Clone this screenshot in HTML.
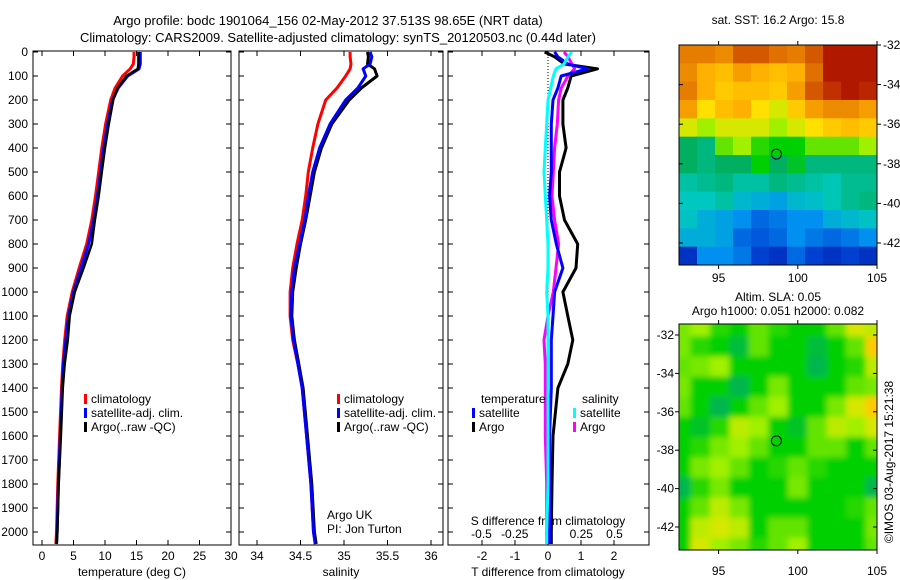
<!DOCTYPE html>
<html><head><meta charset="utf-8"><style>
body{margin:0;background:#fff;}
svg{display:block;font-family:"Liberation Sans",sans-serif;font-size:12px;}
</style></head><body>
<svg id="c" width="900" height="580" viewBox="0 0 900 580">
<defs>
<filter id="blur" x="0" y="0" width="1" height="1"><feGaussianBlur stdDeviation="3"/></filter>
<clipPath id="clip1"><rect x="679" y="45" width="198" height="220"/></clipPath>
<clipPath id="clip2"><rect x="679" y="324" width="198" height="226"/></clipPath>
</defs>
<text x="328" y="25" text-anchor="middle" font-size="13">Argo profile: bodc 1901064_156 02-May-2012 37.513S 98.65E (NRT data)</text>
<text x="338" y="42" text-anchor="middle" font-size="13">Climatology: CARS2009. Satellite-adjusted climatology: synTS_20120503.nc (0.44d later)</text>
<g id="g"></g>
</svg>
<script>
// ---- data ----
const depths=[0,20,50,70,100,150,200,300,400,500,600,700,800,900,1000,1100,1200,1300,1400,1600,1800,2000,2050];
const tempClim=[14.6,14.6,14.5,14.0,12.8,11.6,10.9,10.1,9.5,9.0,8.5,7.9,7.1,5.9,4.8,4.0,3.6,3.3,3.1,2.8,2.5,2.3,2.2];
const tempSat=[15.6,15.6,15.6,15.4,13.6,12.1,11.2,10.4,9.8,9.3,8.8,8.2,7.4,6.2,5.0,4.2,3.8,3.4,3.2,2.9,2.6,2.4,2.3];
const tempArgo=[15.3,15.3,15.3,15.2,13.4,12.0,11.3,10.6,10.0,9.5,9.0,8.4,7.9,6.6,5.2,4.4,4.1,3.6,3.3,3.0,2.65,2.45,2.35];
const salClim=[35.07,35.07,35.08,35.07,35.02,34.92,34.79,34.70,34.64,34.59,34.56,34.52,34.46,34.41,34.38,34.38,34.41,34.47,34.52,34.57,34.62,34.65,34.67];
const salSat=[35.3,35.32,35.3,35.22,35.25,35.16,35.02,34.84,34.72,34.64,34.59,34.55,34.49,34.43,34.40,34.39,34.42,34.47,34.52,34.57,34.62,34.65,34.67];
const salArgo=[35.27,35.28,35.27,35.35,35.38,35.2,35.06,34.86,34.74,34.66,34.61,34.56,34.5,34.45,34.41,34.4,34.43,34.48,34.53,34.58,34.63,34.66,34.68];
const dTsat=[0.2,0.3,0.6,1.2,0.4,0.3,0.15,0.1,0.1,0.1,0.05,0.1,0.25,0.45,0.2,0.15,0.1,0.1,0.1,0.05,0.05,0.05,0.05];
const dTargo=[-0.1,0.2,0.5,1.5,0.7,0.6,0.45,0.45,0.55,0.35,0.35,0.5,0.9,0.85,0.45,0.6,0.75,0.6,0.3,0.15,0.12,0.1,0.1];
const dSsat=[0.18,0.15,0.12,0.06,0.04,0.02,0.0,-0.01,-0.02,-0.03,-0.02,-0.01,0.0,0.0,-0.01,0.0,0.0,0.0,0.0,0.0,0.0,-0.01,-0.01];
const dSargo=[0.12,0.15,0.18,0.2,0.15,0.1,0.08,0.07,0.05,0.04,0.03,0.05,0.08,0.06,0.04,0.0,-0.03,-0.02,-0.02,-0.02,-0.01,-0.01,-0.01];
const depthTicks=[0,100,200,300,400,500,600,700,800,900,1000,1100,1200,1300,1400,1500,1600,1700,1800,1900,2000];
const tempTicks=[0,5,10,15,20,25,30];
const salTicks=[34,34.5,35,35.5,36];
const dTTicks=[-2,-1,0,1,2];
const dSTicks=[-0.5,-0.25,0,0.25,0.5];
const dSLabels=["-0.5","-0.25","0","0.25","0.5"];
const latTicks=[-32,-34,-36,-38,-40,-42];
const lonTicks=[95,100,105];
const sstGrid=[
[.8,.8,.78,.85,.85,.82,.8,.85,.95,.95,.95],
[.78,.72,.7,.75,.72,.7,.72,.82,.95,.95,.95],
[.8,.72,.68,.7,.7,.68,.75,.85,.9,.95,.92],
[.75,.65,.7,.72,.65,.62,.68,.75,.78,.78,.75],
[.62,.58,.62,.62,.62,.58,.62,.65,.68,.7,.68],
[.45,.42,.55,.58,.52,.5,.5,.55,.55,.55,.58],
[.45,.42,.45,.45,.5,.45,.48,.42,.42,.42,.42],
[.38,.4,.42,.38,.38,.42,.4,.38,.36,.4,.4],
[.35,.35,.38,.32,.3,.28,.32,.33,.36,.4,.42],
[.34,.3,.28,.25,.2,.22,.25,.25,.3,.32,.34],
[.3,.3,.28,.2,.18,.2,.25,.22,.2,.22,.25],
[.12,.25,.25,.22,.15,.12,.2,.15,.12,.15,.12]];
const slaGrid=[
[.56,.58,.52,.5,.55,.52,.5,.5,.55,.62,.6],
[.56,.52,.5,.47,.55,.5,.5,.47,.5,.55,.68],
[.55,.56,.58,.5,.5,.5,.5,.46,.5,.52,.6],
[.56,.5,.5,.46,.5,.56,.5,.5,.5,.55,.56],
[.55,.5,.46,.5,.55,.58,.5,.5,.56,.62,.68],
[.5,.48,.52,.6,.58,.5,.48,.55,.6,.58,.62],
[.5,.52,.56,.58,.55,.5,.5,.55,.55,.5,.55],
[.5,.56,.58,.55,.5,.52,.55,.52,.5,.5,.5],
[.46,.52,.56,.5,.5,.5,.56,.5,.5,.5,.46],
[.5,.55,.6,.56,.5,.5,.5,.5,.5,.52,.55],
[.5,.6,.62,.6,.5,.55,.55,.5,.5,.5,.56],
[.5,.62,.58,.56,.52,.55,.58,.5,.5,.5,.55]];
const floatLon=98.65, floatLat=-37.513;

// ---- drawing ----
const NS="http://www.w3.org/2000/svg";
const G=document.getElementById('g');
function mk(tag,at,txt,parent){const e=document.createElementNS(NS,tag);for(const k in at)e.setAttribute(k,at[k]);if(txt!==undefined&&txt!==null)e.textContent=txt;(parent||G).appendChild(e);return e;}
const Y=d=>52+d*0.24;
const TOP=51,BOT=545;
const xT=t=>42+t*6.3, xS=s=>257+(s-34)*87, xdT=t=>548+t*33, xdS=s=>548+s*133;
function frame(x0,x1,name){const r=mk('rect',{x:x0,y:TOP,width:x1-x0,height:BOT-TOP,fill:'none',stroke:'#000','stroke-width':1});


depthTicks.forEach(d=>{mk('line',{x1:x0,x2:x0+5,y1:Y(d),y2:Y(d),stroke:'#000'});mk('line',{x1:x1,x2:x1-5,y1:Y(d),y2:Y(d),stroke:'#000'});});}
function line(xs,xf,color,name,w){const p=depths.map((d,i)=>xf(xs[i]).toFixed(1)+','+Y(d).toFixed(1)).join(' ');
const e=mk('polyline',{points:p,fill:'none',stroke:color,'stroke-width':w||3,'stroke-linejoin':'round'});

}
function xticks(vals,f,labels,y,name){vals.forEach((v,i)=>{const x=f(v);mk('line',{x1:x,x2:x,y1:BOT,y2:BOT-5,stroke:'#000'});mk('line',{x1:x,x2:x,y1:TOP,y2:TOP+5,stroke:'#000'});
const t=mk('text',{x:x,y:y,'text-anchor':'middle'},labels?labels[i]:String(v));

});}
frame(33,231,'temperature-panel');frame(239,443,'salinity-panel');frame(448,649,'difference-panel');
depthTicks.forEach(d=>{const t=mk('text',{x:28,y:Y(d)+4,'text-anchor':'end'},String(d));

});
xticks(tempTicks,xT,null,560,'temperature');
xticks(salTicks,xS,null,560,'salinity');
xticks(dTTicks,xdT,null,560,'t-diff');
dSTicks.forEach((v,i)=>{const t=mk('text',{x:xdS(v),y:538,'text-anchor':'middle'},dSLabels[i]);

});
[['temperature (deg C)',132,'temperature-axis-title'],['salinity',341,'salinity-axis-title'],['T difference from climatology',548,'t-diff-axis-title']].forEach(a=>{const t=mk('text',{x:a[1],y:576,'text-anchor':'middle'},a[0]);

});
{const t=mk('text',{x:548,y:525,'text-anchor':'middle'},'S difference from climatology');

}
mk('line',{x1:xdT(0),x2:xdT(0),y1:TOP,y2:BOT,stroke:'#000','stroke-dasharray':'1,2'});
line(tempClim,xT,'#ff0000','temp-climatology-line');line(tempSat,xT,'#0000ff','temp-satellite-line');line(tempArgo,xT,'#000','temp-argo-line',2.5);
line(salClim,xS,'#ff0000','sal-climatology-line');line(salArgo,xS,'#000','sal-argo-line');line(salSat,xS,'#0000ff','sal-satellite-line');
line(dTargo,xdT,'#000','t-diff-argo-line');line(dSargo,xdS,'#ff00ff','s-diff-argo-line');line(dTsat,xdT,'#0000ff','t-diff-satellite-line');line(dSsat,xdS,'#00ffff','s-diff-satellite-line');
function leg(x,y,color,label,name){mk('rect',{x:x,y:y-9,width:3,height:10,fill:color});const t=mk('text',{x:x+7,y:y},label);

}
leg(84,403,'#ff0000','climatology','legend-climatology');leg(84,417,'#0000ff','satellite-adj. clim.','legend-satellite');leg(84,431,'#000','Argo(..raw -QC)','legend-argo');
leg(337,403,'#ff0000','climatology','legend2-climatology');leg(337,417,'#0000ff','satellite-adj. clim.','legend2-satellite');leg(337,431,'#000','Argo(..raw -QC)','legend2-argo');
mk('text',{x:481,y:403},'temperature');mk('text',{x:582,y:403},'salinity');
leg(472,417,'#0000ff','satellite','legend-t-satellite');leg(472,431,'#000','Argo','legend-t-argo');
leg(573,417,'#00ffff','satellite','legend-s-satellite');leg(573,431,'#ff00ff','Argo','legend-s-argo');
mk('text',{x:327,y:519},'Argo UK');mk('text',{x:327,y:533},'PI: Jon Turton');
const stops=[[0,[0,0,139]],[.15,[0,64,208]],[.25,[0,144,240]],[.35,[0,200,192]],[.45,[0,176,96]],[.5,[0,208,0]],[.58,[160,240,0]],[.65,[255,224,0]],[.72,[255,176,0]],[.82,[224,112,0]],[.9,[192,48,0]],[1,[160,0,0]]];
function cmap(v){for(let i=1;i<stops.length;i++){if(v<=stops[i][0]){const a=stops[i-1],b=stops[i],f=(v-a[0])/(b[0]-a[0]);return 'rgb('+a[1].map((c,k)=>Math.round(c+(b[1][k]-c)*f)).join(',')+')';}}return 'rgb(160,0,0)';}
function map(grid,y0,h,latY0,latScale,labelsRight,clip,blur,name){const x0=679,x1=877,w=x1-x0;const lon=v=>x0+(v-92.5)/12.5*w;const lat=v=>latY0+(-32-v)*latScale;
const rows=grid.length,cols=grid[0].length;
const cg=mk('g',{'clip-path':'url(#'+clip+')'});
const bg=mk('g',{filter:blur?'url(#blur)':''},null,cg);
const pad=blur?8:0;
grid.forEach((r,i)=>r.forEach((v,j)=>{
const cx=x0-pad+j*(w+2*pad)/cols, cy=y0-pad+i*(h+2*pad)/rows;
const e=mk('rect',{x:cx,y:cy,width:(w+2*pad)/cols+0.6,height:(h+2*pad)/rows+0.6,fill:cmap(v)},null,bg);

}));
const fr=mk('rect',{x:x0,y:y0,width:w,height:h,fill:'none',stroke:'#000'});


latTicks.forEach(v=>{const y=lat(v);
if(labelsRight){mk('line',{x1:x1,x2:x1+4,y1:y,y2:y,stroke:'#000'});mk('line',{x1:x0,x2:x0+4,y1:y,y2:y,stroke:'#000'});}
else{mk('line',{x1:x0-4,x2:x0,y1:y,y2:y,stroke:'#000'});mk('line',{x1:x1,x2:x1-4,y1:y,y2:y,stroke:'#000'});}
const t=mk('text',labelsRight?{x:883,y:y+4}:{x:674,y:y+4,'text-anchor':'end'},String(v));

});
lonTicks.forEach(v=>{const x=lon(v);mk('line',{x1:x,x2:x,y1:y0+h,y2:y0+h+4,stroke:'#000'});mk('line',{x1:x,x2:x,y1:y0,y2:y0-4,stroke:'#000'});
if(labelsRight){const t=mk('text',{x:x,y:y0+h+17,'text-anchor':'middle'},String(v));

}});
const c=mk('circle',{cx:lon(floatLon),cy:lat(floatLat),r:5,fill:'none',stroke:'#000'});


return lon;}
map(sstGrid,45,220,45,19.8,true,'clip1',false,'sst-map');
const lon2=map(slaGrid,324,226,335,19.2,false,'clip2',true,'sla-map');
lonTicks.forEach(v=>{const t=mk('text',{x:lon2(v),y:575,'text-anchor':'middle'},String(v));

});
mk('text',{x:778,y:24,'text-anchor':'middle'},'sat. SST: 16.2 Argo: 15.8');
mk('text',{x:778,y:301,'text-anchor':'middle'},'Altim. SLA: 0.05');
mk('text',{x:778,y:315,'text-anchor':'middle'},'Argo h1000: 0.051 h2000: 0.082');
{const t=mk('text',{x:0,y:0,'text-anchor':'middle',transform:'translate(893,462) rotate(-90)'},'©IMOS 03-Aug-2017 15:21:38');

}
</script>
</body></html>
